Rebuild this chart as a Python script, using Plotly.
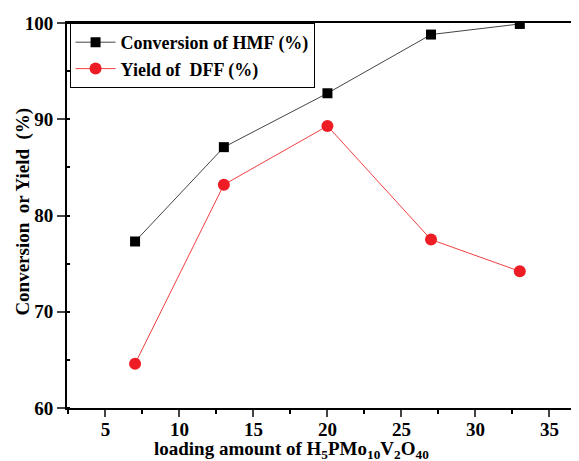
import plotly.graph_objects as go

loading = [7, 13, 20, 27, 33]
conversion_hmf = [77.3, 87.1, 92.7, 98.8, 99.9]
yield_dff = [64.6, 83.2, 89.3, 77.5, 74.2]

x_ticks = [5, 10, 15, 20, 25, 30, 35]
y_ticks = [60, 70, 80, 90, 100]

FONT = "Liberation Serif"

fig = go.Figure()
fig.add_trace(go.Scatter(
    x=loading, y=conversion_hmf, mode="lines+markers",
    name="Conversion of HMF (%)",
    line=dict(color="#444444", width=1),
    marker=dict(symbol="square", size=10, color="black"),
))
fig.add_trace(go.Scatter(
    x=loading, y=yield_dff, mode="lines+markers",
    name="Yield of  DFF (%)",
    line=dict(color="#f04040", width=1),
    marker=dict(symbol="circle", size=12, color="#ee1c25"),
))

# page body has an 8px margin, so the figure is sized 8px smaller
fig.update_layout(
    width=571, height=453,
    margin=dict(l=59, r=0, t=15, b=53),
    paper_bgcolor="white", plot_bgcolor="white",
    font=dict(family=FONT, size=19, color="black", weight="bold"),
    showlegend=True,
    legend=dict(
        x=0.005, y=1, xanchor="left", yanchor="top",
        bgcolor="white", bordercolor="black", borderwidth=1,
        font=dict(family=FONT, size=18, color="black", weight="bold"),
        tracegroupgap=0, itemwidth=40,
    ),
)
fig.update_xaxes(
    range=[2.4, 37.0], tickvals=x_ticks, ticks="outside", ticklen=7, tickwidth=2,
    showline=True, linecolor="black", linewidth=2, mirror=True,
    showgrid=False, zeroline=False, ticklabelstandoff=-4,
    tickfont=dict(family=FONT, size=19, weight="bold"),
    minor=dict(dtick=2.5, tick0=0, ticks="outside", ticklen=4, tickwidth=1.5, tickcolor="black"),
)
fig.update_yaxes(
    range=[60, 100], tickvals=y_ticks, ticks="outside", ticklen=8, tickwidth=2,
    showline=True, linecolor="black", linewidth=2, mirror=False,
    showgrid=False, zeroline=False,
    tickfont=dict(family=FONT, size=19, weight="bold"),
    minor=dict(dtick=5, tick0=0, ticks="inside", ticklen=3, tickwidth=1.5, tickcolor="black"),
)
fig.add_annotation(
    text="loading amount of H<sub>5</sub>PMo<sub>10</sub>V<sub>2</sub>O<sub>40</sub>",
    xref="paper", yref="paper", x=0.4375, y=-0.146, xanchor="center", yanchor="bottom",
    showarrow=False, font=dict(family=FONT, size=19, weight="bold"),
)
fig.add_annotation(
    text="Conversion  or Yield  (%)",
    xref="paper", yref="paper", x=-0.086, y=0.51, xanchor="center", yanchor="middle",
    textangle=-90, showarrow=False, font=dict(family=FONT, size=19, weight="bold"),
)
fig.write_html("out.html")
